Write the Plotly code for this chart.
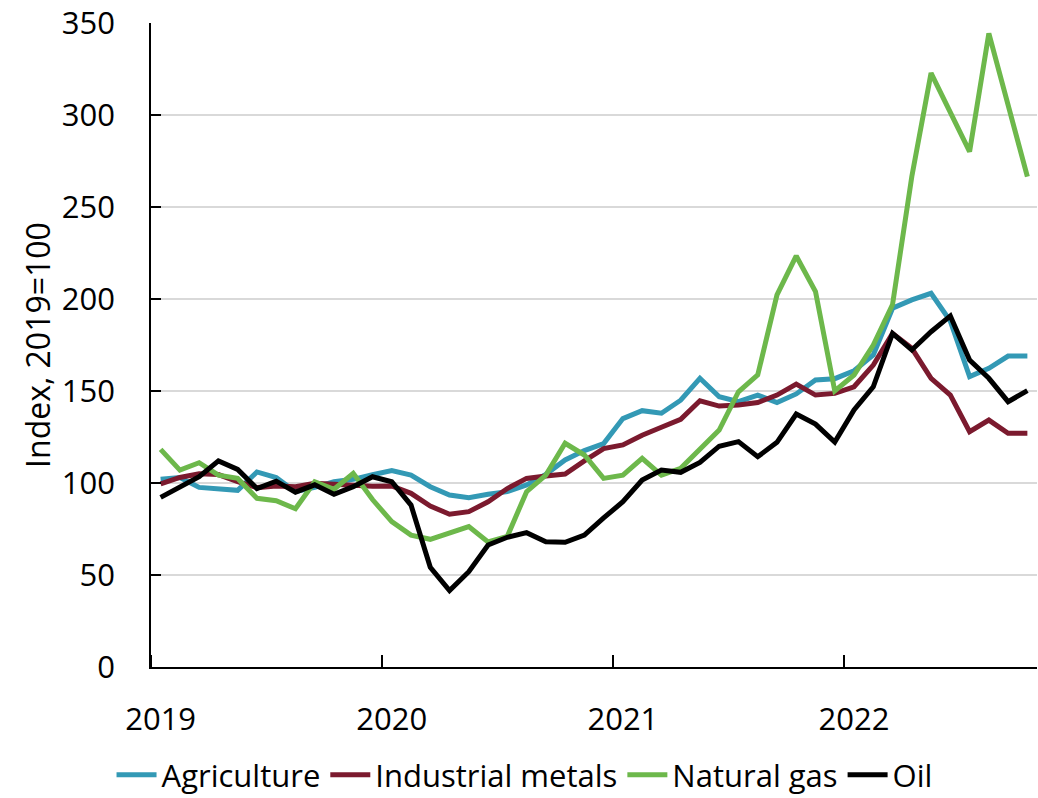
import plotly.graph_objects as go

months = list(range(46))  # Jan 2019 .. Oct 2022, monthly
year_labels = ["2019", "2020", "2021", "2022"]
year_pos = [0, 12, 24, 36]

agriculture = [102, 103, 97.6, 97, 96, 106, 103, 95.3, 97.6, 100.7, 102, 104.5,
               106.7, 104.3, 98, 93.5, 92, 93.9, 95.3, 99, 104.7, 112.5, 117.6, 121.4,
               135, 139.3, 137.9, 145, 156.9, 146.9, 144.2, 147.8, 143.7, 148.4, 156, 156.7,
               161, 169.6, 195, 199.5, 203.1, 188, 157.8, 162.3, 169, 169]
industrial_metals = [99.5, 103, 105, 104.6, 100.7, 97.5, 98.4, 98, 99.8, 99.3, 98.4, 98.2,
                     98.4, 94.4, 87.5, 83, 84.4, 89.8, 97, 102.5, 103.8, 104.9, 112, 118.7,
                     120.7, 126, 130.3, 134.6, 144.7, 141.8, 142.4, 143.7, 147.8, 153.8, 147.8, 148.7,
                     152.3, 164.1, 181.3, 173.2, 156.9, 147.8, 127.9, 134.2, 127, 127]
natural_gas = [118.3, 107, 111, 104.3, 102.5, 91.7, 90.4, 86, 100.7, 96.6, 105.3, 91,
               79, 71.7, 69.4, 73, 76.3, 68, 71, 95.3, 104.3, 121.6, 115.2, 102.5,
               104.3, 113.4, 104.3, 108, 118.8, 128.8, 149.6, 158.7, 202.2, 223.4, 204, 150,
               158.7, 175, 197, 266.5, 322.8, 300.9, 280.1, 344.4, 306.4, 266.5]
oil = [92.2, 98, 103.4, 112, 107.4, 97, 101, 95, 99, 93.9, 98, 103.4,
       100.7, 88, 54.2, 41.5, 51.8, 66.3, 70.5, 73, 68.1, 67.8, 71.7, 81,
       89.8, 101.6, 107, 105.8, 111.2, 120, 122.5, 114.3, 122.1, 137.5, 132, 122.3,
       139.7, 152.3, 181.3, 172.3, 182.2, 190.8, 166.8, 156.9, 144.2, 150.2]

series = [
    ("Agriculture", agriculture, "#3399B5"),
    ("Industrial metals", industrial_metals, "#7B1A2E"),
    ("Natural gas", natural_gas, "#6DB84B"),
    ("Oil", oil, "#000000"),
]

FONT = "Open Sans"
fig = go.Figure()
for name, vals, col in series:
    fig.add_trace(go.Scatter(x=months, y=vals, name=name, mode="lines",
                             line=dict(color=col, width=5)))

fig.update_layout(
    width=1038, height=798,
    paper_bgcolor="white", plot_bgcolor="white",
    margin=dict(l=151, r=1, t=23, b=131, autoexpand=False),
    font=dict(family=FONT, size=31, color="#000000"),
    showlegend=True,
    legend=dict(orientation="h", x=0.4216, xanchor="center", y=-0.168, yanchor="middle",
                font=dict(size=31), itemwidth=40, tracegroupgap=0,
                borderwidth=0),
    xaxis=dict(range=[-0.5, 45.5], tickvals=year_pos, ticktext=year_labels,
               ticks="", showgrid=False, zeroline=False, automargin=False,
               showline=True, linecolor="black", linewidth=1.5,
               ticklabelstandoff=24,
               minor=dict(tick0=-0.5, dtick=12, ticks="inside", ticklen=12,
                          tickcolor="black", tickwidth=1.5, showgrid=False)),
    yaxis=dict(range=[0, 350], dtick=50, ticks="inside", ticklen=10, tickcolor="black",
               tickwidth=1.5, showline=True, linecolor="black", linewidth=1.5,
               showgrid=True, gridcolor="#D9D9D9", gridwidth=1.5, zeroline=False,
               ticklabelstandoff=28, automargin=False, ticklabeloverflow="allow",
               title=dict(text="Index, 2019=100", standoff=2, font=dict(size=32))),
)

# remove the default 8px page margin so the figure fills the window exactly
fig.write_html("out.html",
               config={"displayModeBar": False},
               post_script="document.body.style.margin='0';document.body.style.overflow='hidden';")
